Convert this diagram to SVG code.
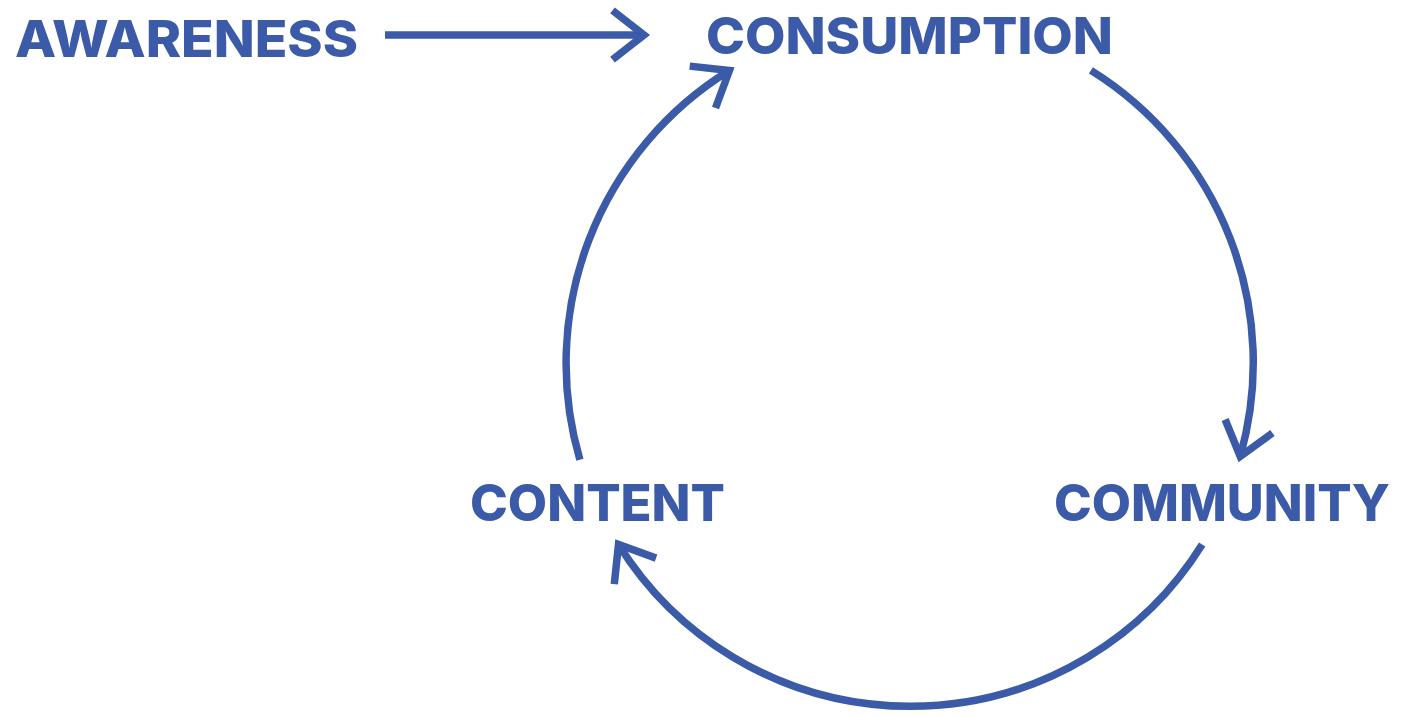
<svg xmlns="http://www.w3.org/2000/svg" width="1401" height="716" viewBox="0 0 1401 716">
<defs>
<style>
.lbl{font-family:"Inter","DejaVu Sans","Liberation Sans",sans-serif;font-weight:800;font-size:51px;fill:#3b5ba8}
.con{fill:none;stroke:#3b5ba8;stroke-width:7.5;stroke-linecap:butt}
</style>
<marker id="ah" markerUnits="userSpaceOnUse" viewBox="-45 -45 90 90" markerWidth="90" markerHeight="90" refX="0" refY="0" orient="auto" overflow="visible">
<path d="M-31.5,-24.6 L0,0 L-31.5,24.6" fill="none" stroke="#3b5ba8" stroke-width="7.5" stroke-linejoin="miter"/>
</marker>
</defs>
<rect width="1401" height="716" fill="#ffffff"/>
<g id="connectors">
<path id="e-awareness-consumption" class="con" d="M385,35 L644,35" marker-end="url(#ah)"/>
<path id="e-content-consumption" class="con" d="M579.9,459.7 A344,344 0 0 1 729.4,70.5" marker-end="url(#ah)"/>
<path id="e-consumption-community" class="con" d="M1090.9,70.4 A344,344 0 0 1 1240.2,456.5" marker-end="url(#ah)"/>
<path id="e-community-content" class="con" d="M1202.2,544.5 A344,344 0 0 1 618.5,544.4" marker-end="url(#ah)"/>
</g>
<g id="awareness"><text class="lbl" x="15" y="57" textLength="343" lengthAdjust="spacingAndGlyphs">AWARENESS</text></g>
<g id="consumption"><text class="lbl" x="706" y="54" textLength="407" lengthAdjust="spacingAndGlyphs">CONSUMPTION</text></g>
<g id="content"><text class="lbl" x="470" y="521" textLength="255" lengthAdjust="spacingAndGlyphs">CONTENT</text></g>
<g id="community"><text class="lbl" x="1054" y="521" textLength="336" lengthAdjust="spacingAndGlyphs">COMMUNITY</text></g>
</svg>
